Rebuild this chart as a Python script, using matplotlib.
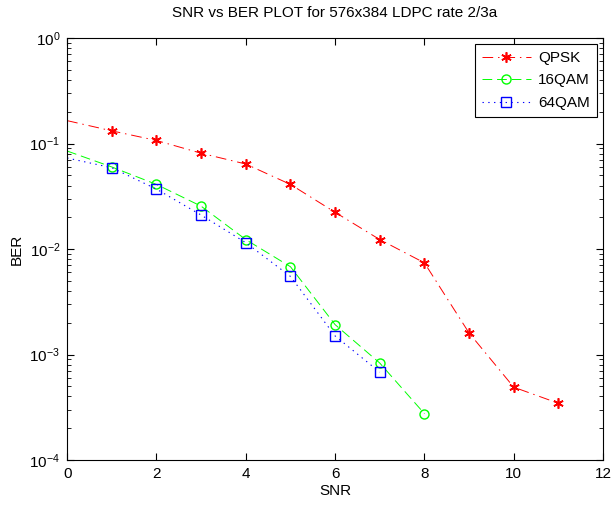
import matplotlib
matplotlib.use('Agg')
from matplotlib import pyplot as plt
from matplotlib.ticker import LogLocator, FixedLocator

snr = [0, 1, 2, 3, 4, 5, 6, 7, 8, 9, 10, 11]
ber_qpsk = [0.165, 0.132, 0.107, 0.081, 0.064, 0.041, 0.0223, 0.0123, 0.0074,
            0.0016, 0.00049, 0.000345]
snr_qam = [0, 1, 2, 3, 4, 5, 6, 7, 8]
ber_16qam = [0.085, 0.06, 0.041, 0.0255, 0.0123, 0.0068, 0.00192, 0.00083,
             0.000275]
ber_64qam = [0.073, 0.059, 0.037, 0.021, 0.0115, 0.0055, 0.0015, 0.00068]

plt.rcParams['font.family'] = ['Liberation Sans', 'DejaVu Sans']
plt.rcParams['font.size'] = 11

fig = plt.figure(figsize=(6.16, 5.08), dpi=100)
ax = fig.add_axes([0.109, 0.0945, 0.870, 0.8305])

ax.semilogy(snr, ber_qpsk, color='red', marker=(6, 2, 0), markersize=7.5,
            markeredgewidth=1.2, markevery=list(range(1, len(snr))),
            linewidth=0.7, dashes=(11, 5, 1.5, 5), label='QPSK')
ax.semilogy(snr_qam, ber_16qam, color='#00ff00', marker='o',
            markersize=6.5, markerfacecolor='none',
            markevery=list(range(1, len(snr_qam))), linewidth=0.7,
            dashes=(10, 5), label='16QAM')
ax.semilogy(snr_qam[:len(ber_64qam)], ber_64qam, color='blue',
            marker='s', markersize=7, markerfacecolor='none',
            markevery=list(range(1, len(ber_64qam))), linewidth=0.8,
            dashes=(1.2, 4), label='64QAM')

ax.set_xlim(0, 12)
ax.set_ylim(1e-4, 1)
ax.xaxis.set_major_locator(FixedLocator(range(0, 13, 2)))
ax.yaxis.set_major_locator(LogLocator(base=10, numticks=10))
ax.yaxis.set_minor_locator(LogLocator(base=10, subs=range(2, 10), numticks=10))
ax.tick_params(which='both', direction='in', top=True, right=True,
               labelsize=11)
ax.tick_params(which='major', length=5, pad=5)
ax.tick_params(which='minor', length=3)
for s in ax.spines.values():
    s.set_linewidth(0.8)

ax.set_xlabel('SNR', fontsize=11, labelpad=2)
ax.set_ylabel('BER', fontsize=11, labelpad=4)
ax.set_title('SNR vs BER PLOT for 576x384 LDPC rate 2/3a', fontsize=11,
             pad=15)

leg = ax.legend(loc='upper right', fancybox=False, framealpha=1,
                edgecolor='black', fontsize=11, handlelength=3.2,
                borderaxespad=0.4, labelspacing=0.55, handletextpad=0.5,
                borderpad=0.45)
leg.get_frame().set_linewidth(0.8)

fig.savefig('out.png', dpi=100)
